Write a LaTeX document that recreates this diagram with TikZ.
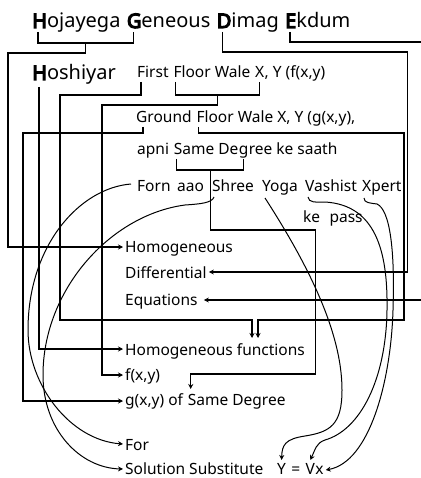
\documentclass[tikz,border=0pt]{standalone}
\usepackage{fontspec}
\setmainfont{Noto Sans}
\newfontfamily\heavy{Noto Sans}[FakeBold=6]
\usetikzlibrary{calc,arrows.meta}
\begin{document}
\begin{tikzpicture}[x=1pt,y=-1pt,
  big/.style={inner sep=0pt,anchor=base west,font=\fontsize{20}{24}\selectfont},
  sm/.style={inner sep=0pt,anchor=base west,font=\fontsize{15.5}{18}\selectfont},
  nx/.style={anchor=base west,at={(#1.base east)}},
  nxs/.style={anchor=base west,at={($(#1.base east)+(4.5,0)$)}},
  nxb/.style={anchor=base west,at={($(#1.base east)+(6,0)$)}},
  ln/.style={line width=1.2pt},
  cv/.style={line width=1pt},
  tip/.style={-{Stealth[length=5pt,width=5pt]}},
]
\useasboundingbox (0,0) rectangle (420,478);
% ---------- texts ----------
\node[big] (hoj) at (32,28) {{\heavy H}ojayega};
\node[big,nxb=hoj] (gen) {{\heavy G}eneous};
\node[big,nxb=gen] (dim) {{\heavy D}imag};
\node[big,nxb=dim] (ekd) {{\heavy E}kdum};
\node[big] (hosh) at (32,80) {{\heavy H}oshiyar};

\node[sm] (first) at (137,78) {First};
\node[sm,nxs=first] (fwl) {Floor Wale};
\node[sm,nxs=fwl] (fX) {X};
\node[sm,nx=fX] (fxyl) {, Y (f(x,y)};

\node[sm] (ground) at (136,123) {Ground};
\node[sm,nxs=ground] (gfl) {Floor Wale X, Y (g(x,y),};

\node[sm] (apni) at (137,155) {apni};
\node[sm,nxs=apni] (same) {Same De};
\node[sm,nx=same] (sg) {g};
\node[sm,nx=sg] (sree) {ree ke saath};

\node[sm] (forn) at (137,191) {Forn};
\node[sm] (aao) at (177,191) {aao};
\node[sm] (shree) at (212,191) {Shree};
\node[sm] (yoga) at (262,191) {Yoga};
\node[sm] (vash) at (305,191) {Vashist};
\node[sm] (xpert) at (362,191) {Xpert};
\node[sm] (kepass) at (303,222) {ke\hspace{0.6em}pass};

\node[sm] (homog) at (125,252) {Homogeneous};
\node[sm] (diff) at (125,278) {Differential};
\node[sm] (equ) at (125,305) {Equations};
\node[sm] (homf) at (125,355) {Homogeneous functions};
\node[sm] (fxy) at (125,380) {f(x,y)};
\node[sm] (gxy) at (125,405) {g(x,y) of};
\node[sm,nxs=gxy] (gsd) {Same Degree};
\node[sm] (for) at (125,450) {For};
\node[sm] (sol) at (125,474) {Solution Substitute};
\node[sm] (sY) at (277,474) {Y};
\node[sm] (seq) at ($(sY.base east)+(5,0)$) {=};
\node[sm] (sV) at ($(seq.base east)+(5,0)$) {V};
\node[sm,nx=sV] (sx) {x};

% ---------- attachment points ----------
\coordinate (aH) at ($(hoj.base west)+(6,4)$);
\coordinate (aG) at ($(gen.base west)+(7,4)$);
\coordinate (aD) at ($(dim.base west)+(6,4)$);
\coordinate (aE) at ($(ekd.base west)+(5,4)$);
\coordinate (aHs) at ($(hosh.base west)+(7,7)$);
\coordinate (aF) at ($(first.base west)+(4,4)$);
\coordinate (aFl) at ($(fwl.base west)+(2,4)$);
\coordinate (aX) at ($(fX.base)+(0,4)$);
\coordinate (aGr) at ($(ground.base west)+(7,4)$);
\coordinate (aGF) at ($(gfl.base west)+(2,4)$);
\coordinate (aS) at ($(same.base west)+(3,4)$);
\coordinate (aSg) at ($(sg.base)+(0,4)$);
\coordinate (aForn) at ($(forn.base west)+(-6,-7)$);
\coordinate (aShree) at ($(shree.base west)+(2,6)$);
\coordinate (aYoga) at ($(yoga.base west)+(3,7)$);
\coordinate (aVash) at ($(vash.base west)+(3,6)$);
\coordinate (aXp) at ($(xpert.base west)+(2,7)$);

\coordinate (tHomog) at ($(homog.base west)+(-2,-5)$);
\coordinate (tDiff) at ($(diff.base east)+(2,-6)$);
\coordinate (tEqu) at ($(equ.base east)+(6,-5)$);
\coordinate (tHomf) at ($(homf.base west)+(-2,-6)$);
\coordinate (tF1) at ($(homf.base west)+(127,-17)$);
\coordinate (tF2) at ($(homf.base west)+(133,-17)$);
\coordinate (tFxy) at ($(fxy.base west)+(-2,-5)$);
\coordinate (tGxy) at ($(gxy.base west)+(-2,-4)$);
\coordinate (tSame) at ($(gsd.base west)+(3,-16)$);
\coordinate (tFor) at ($(for.base west)+(-2,-6)$);
\coordinate (tSol) at ($(sol.base west)+(-2,-5)$);
\coordinate (tY) at ($(sY.base)+(0,-14)$);
\coordinate (tV) at ($(sV.base)+(0,-14)$);
\coordinate (tx) at ($(sx.base east)+(2,-4)$);

% ---------- connectors ----------
\draw[ln] (aH) -- ++(0,11) -| (aG);
\draw[ln,tip] ($(aH)!0.5!(aG)+(0,11)$) -- ++(0,10) -| ($(tHomog)+(-115,0)$) -- (tHomog);
\draw[ln,tip] (aD) -- ++(0,20) -| ($(tDiff)+(199,0)$) -- (tDiff);
\draw[ln,tip] (aE) -- ++(0,10) -| ($(tEqu)+(240,0)$) -- (tEqu);
\draw[ln,tip] (aHs) |- (tHomf);
\draw[ln,tip] (aF) -- ++(0,13) -| ($(tF1)+(-192,-18)$) -| (tF1);
\draw[ln] (aFl) -- ++(0,13) -| (aX);
\draw[ln,tip] ($(aFl)!0.5!(aX)+(0,13)$) -- ++(0,10) -| ($(tFxy)+(-21,0)$) -- (tFxy);
\draw[ln,tip] (aGr) -- ++(0,6) -| ($(tGxy)+(-100,0)$) -- (tGxy);
\draw[ln,tip] (aGF) -- ++(0,6) -| ($(tF2)+(146,-18)$) -| (tF2);
\draw[ln] (aS) -- ++(0,11) -| (aSg);
\draw[ln,tip] ($(aS)!0.5!(aSg)+(0,11)$) -- ++(0,60) -| ($(tSame)+(125,-15)$) -| (tSame);

\draw[cv,tip] (aForn) .. controls (80,188) and (28,245) .. (28,330)
  .. controls (28,385) and (70,440) .. (tFor);
\draw[cv,tip] (aShree) .. controls (212,203) and (200,204) .. (185,205)
  .. controls (110,215) and (43,290) .. (43,375)
  .. controls (43,430) and (80,468) .. (tSol);
\draw[cv,tip] (aYoga) .. controls (305,260) and (342,330) .. (342,390)
  .. controls (342,425) and (330,432) .. (305,436)
  .. controls (285,439) and (282,445) .. (tY);
\draw[cv,tip] (aVash) .. controls (309,203) and (315,202) .. (325,202)
  .. controls (375,205) and (388,250) .. (387,310)
  .. controls (386,380) and (360,430) .. (325,440)
  .. controls (316,443) and (315,450) .. (tV);
\draw[cv,tip] (aXp) .. controls (364,203) and (370,203) .. (377,204)
  .. controls (390,210) and (395,250) .. (393,310)
  .. controls (391,380) and (370,462) .. (tx);
\end{tikzpicture}
\end{document}
